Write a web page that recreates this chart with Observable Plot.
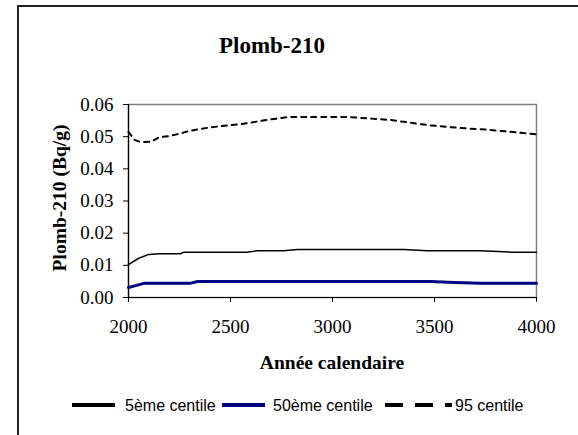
<!DOCTYPE html>
<html><head><meta charset="utf-8">
<script src="https://cdn.jsdelivr.net/npm/d3@7"></script>
<script src="https://cdn.jsdelivr.net/npm/@observablehq/plot@0.6"></script>
<style>
body{margin:0;background:#fff;}
#wrap{position:relative;width:578px;height:435px;overflow:hidden;font-family:"Liberation Serif",serif;background:#fff;}
#wrap svg{position:absolute;left:0;top:0;}
.abs{position:absolute;white-space:nowrap;line-height:1;}
</style></head>
<body><div id="wrap"></div>
<script>
// ---- data ----
const titleText = "Plomb-210";
const xTitle = "Année calendaire";
const yTitle = "Plomb-210 (Bq/g)";
const seriesNames = ["5ème centile", "50ème centile", "95 centile"];
const xTicks = [2000, 2500, 3000, 3500, 4000];
const yTicks = [0, 0.01, 0.02, 0.03, 0.04, 0.05, 0.06];

const years5 = [2000, 2050, 2100, 2150, 2200, 2255, 2272, 2580, 2630, 2760, 2827, 3350, 3465, 3725, 3873, 4000];
const p5     = [0.0102, 0.0122, 0.0134, 0.0136, 0.0136, 0.0136, 0.0141, 0.0141, 0.0145, 0.0145, 0.0149, 0.0149, 0.0145, 0.0145, 0.0141, 0.0141];

const years50 = [2000, 2035, 2075, 2300, 2340, 3480, 3600, 3725, 4000];
const p50     = [0.0031, 0.0037, 0.0044, 0.0044, 0.0050, 0.0050, 0.0047, 0.0044, 0.0044];

const years95 = [2000, 2030, 2060, 2110, 2150, 2200, 2255, 2300, 2400, 2550, 2680, 2780, 3075, 3285, 3465, 3625, 3775, 3985, 4000];
const p95     = [0.0515, 0.0490, 0.0483, 0.0484, 0.0498, 0.0502, 0.0510, 0.0518, 0.0529, 0.0539, 0.0552, 0.0561, 0.0561, 0.0552, 0.0536, 0.0527, 0.0521, 0.0508, 0.0507];

// ---- build ----
const toPts = (xs, ys) => xs.map((x, i) => ({x, y: ys[i]}));
const styles = [
  {stroke: "black", strokeWidth: 1.5, dash: null},
  {stroke: "#000080", strokeWidth: 3, dash: null},
  {stroke: "black", strokeWidth: 2, dash: "5,5"}
];
const data = [toPts(years5, p5), toPts(years50, p50), toPts(years95, p95)];

const chart = Plot.plot({
  width: 578, height: 435,
  marginLeft: 128, marginRight: 42, marginTop: 104, marginBottom: 138,
  style: {fontFamily: "Liberation Serif", fontSize: "19px", color: "black", background: "transparent"},
  x: {domain: [2000, 4000]},
  y: {domain: [0, 0.06]},
  marks: [
    Plot.frame({stroke: "#808080", strokeWidth: 1.5}),
    Plot.axisX({ticks: xTicks, tickFormat: d => String(d), tickSize: 5, tickPadding: 17, label: null}),
    Plot.axisY({ticks: yTicks, tickFormat: d => d.toFixed(2), tickSize: 5, tickPadding: 10, label: null}),
    Plot.ruleX([2000], {stroke: "black", strokeWidth: 1.2}),
    Plot.ruleY([0], {stroke: "black", strokeWidth: 1.2}),
    ...data.map((d, i) => Plot.line(d, {x: "x", y: "y", stroke: styles[i].stroke, strokeWidth: styles[i].strokeWidth, strokeDasharray: styles[i].dash || undefined}))
  ]
});

const wrap = document.getElementById("wrap");
wrap.appendChild(chart);

function addText(txt, x, y, css, anchor) {
  const d = document.createElement("div");
  d.className = "abs";
  d.textContent = txt;
  d.style.left = x + "px";
  d.style.top = y + "px";
  Object.assign(d.style, css);
  d.style.transform = anchor || "translate(-50%,-50%)";
  wrap.appendChild(d);
  return d;
}
// outer chart-area border (left & top visible)
const border = document.createElement("div");
Object.assign(border.style, {position: "absolute", left: "17px", top: "5px", width: "700px", height: "600px", borderLeft: "2px solid #222", borderTop: "2px solid #222"});
wrap.appendChild(border);

addText(titleText, 272, 45, {fontSize: "23px", fontWeight: "bold"});
addText(xTitle, 332, 363, {fontSize: "19.5px", fontWeight: "bold"});
addText(yTitle, 60, 198, {fontSize: "19.5px", fontWeight: "bold"}, "translate(-50%,-50%) rotate(-90deg)");

// legend
const legSw = [[72, 115], [222, 265], [385, 452]];
const legTx = [125, 273, 455];
const ly = 405;
const legSvg = d3.create("svg").attr("width", 578).attr("height", 435).style("position", "absolute").style("left", 0).style("top", 0);
seriesNames.forEach((name, i) => {
  legSvg.append("line").attr("x1", legSw[i][0]).attr("x2", legSw[i][1]).attr("y1", ly).attr("y2", ly)
    .attr("stroke", styles[i].stroke).attr("stroke-width", 4)
    .attr("stroke-dasharray", styles[i].dash ? "18,12" : null);
  legSvg.append("text").attr("x", legTx[i]).attr("y", ly).attr("dy", "0.35em")
    .attr("font-family", "Liberation Sans, Arial, sans-serif").attr("font-size", 16).text(name);
});
wrap.appendChild(legSvg.node());
</script>
</body></html>
